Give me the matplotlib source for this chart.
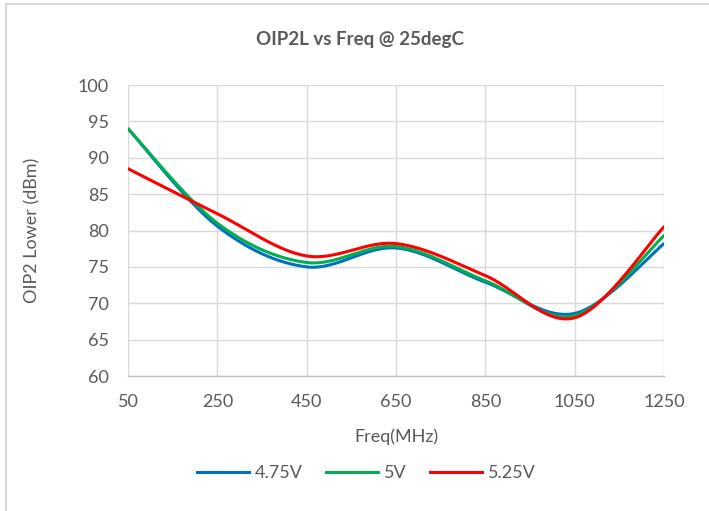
import numpy as np
import matplotlib.pyplot as plt
from matplotlib.lines import Line2D

# values (dBm vs MHz)
freq = [50, 250, 450, 650, 850, 1050, 1250]
oip2_475 = [94.0, 80.6, 75.0, 77.6, 72.9, 68.6, 78.2]
oip2_500 = [94.0, 81.0, 75.6, 77.8, 73.1, 68.3, 79.3]
oip2_525 = [88.5, 82.3, 76.5, 78.2, 73.8, 68.0, 80.5]

series_names = ['4.75V', '5V', '5.25V']
series_colors = ['#0070C0', '#00B050', '#FF0000']
xticks = [50, 250, 450, 650, 850, 1050, 1250]
yticks = [60, 65, 70, 75, 80, 85, 90, 95, 100]

plt.rcParams['font.family'] = ['Lato', 'DejaVu Sans']


def smooth(x, y, n=60):
    # Excel-style smoothed line: Catmull-Rom through the points
    x = np.asarray(x, float)
    y = np.asarray(y, float)
    px = np.concatenate([[x[0]], x, [x[-1]]])
    py = np.concatenate([[y[0]], y, [y[-1]]])
    xs, ys = [], []
    t = np.linspace(0, 1, n)
    for i in range(1, len(px) - 2):
        p0, p1, p2, p3 = px[i - 1], px[i], px[i + 1], px[i + 2]
        q0, q1, q2, q3 = py[i - 1], py[i], py[i + 1], py[i + 2]
        c1x, c1y = p1 + (p2 - p0) / 6, q1 + (q2 - q0) / 6
        c2x, c2y = p2 - (p3 - p1) / 6, q2 - (q3 - q1) / 6
        bx = (1 - t) ** 3 * p1 + 3 * (1 - t) ** 2 * t * c1x + 3 * (1 - t) * t ** 2 * c2x + t ** 3 * p2
        by = (1 - t) ** 3 * q1 + 3 * (1 - t) ** 2 * t * c1y + 3 * (1 - t) * t ** 2 * c2y + t ** 3 * q2
        xs.append(bx)
        ys.append(by)
    return np.concatenate(xs), np.concatenate(ys)


fig = plt.figure(figsize=(7.09, 5.11), dpi=100)
ax = fig.add_axes([128 / 709, 1 - 376 / 511, (664 - 128) / 709, (376 - 85) / 511])

for vals, name, col in zip([oip2_475, oip2_500, oip2_525], series_names, series_colors):
    sx, sy = smooth(freq, vals)
    ax.plot(sx, sy, color=col, linewidth=2.2, label=name, solid_capstyle='round')

ax.set_xlim(50, 1250)
ax.set_ylim(60, 100)
ax.set_xticks(xticks)
ax.set_yticks(yticks)
ax.grid(True, color='#d9d9d9', linewidth=1.0)
ax.set_axisbelow(True)
for s in ['top', 'right', 'left']:
    ax.spines[s].set_visible(False)
ax.spines['bottom'].set_color('#bfbfbf')
ax.spines['bottom'].set_linewidth(1.0)
ax.tick_params(axis='y', length=0, labelsize=13, colors='#595959', pad=14)
ax.tick_params(axis='x', length=0, labelsize=13, colors='#595959', pad=13)

fig.text(360 / 709, 1 - 40 / 511, 'OIP2L vs Freq @ 25degC', fontsize=13.5, fontweight='bold',
         color='#595959', ha='center', va='center')
fig.text(396 / 709, 1 - 437 / 511, 'Freq(MHz)', fontsize=13, color='#595959', ha='center', va='center')
fig.text(32 / 709, 1 - 230 / 511, 'OIP2 Lower (dBm)', fontsize=13, color='#595959', ha='center',
         va='center', rotation=90)

handles = [Line2D([0], [0], color=c, linewidth=2.2) for c in series_colors]
fig.legend(handles, series_names, loc='center', bbox_to_anchor=(366 / 709, 1 - 473 / 511),
           ncol=3, frameon=False, fontsize=13, handlelength=2.9, handletextpad=0.3,
           columnspacing=1.3, labelcolor='#595959')

# chart frame (left and top edges visible)
fig.add_artist(Line2D([5.5 / 709, 5.5 / 709], [0, 1 - 4.5 / 511], color='#d9d9d9', linewidth=1.5))
fig.add_artist(Line2D([5.5 / 709, 1], [1 - 4.5 / 511, 1 - 4.5 / 511], color='#d9d9d9', linewidth=1.5))

fig.savefig('out.png', dpi=100, facecolor='white')
